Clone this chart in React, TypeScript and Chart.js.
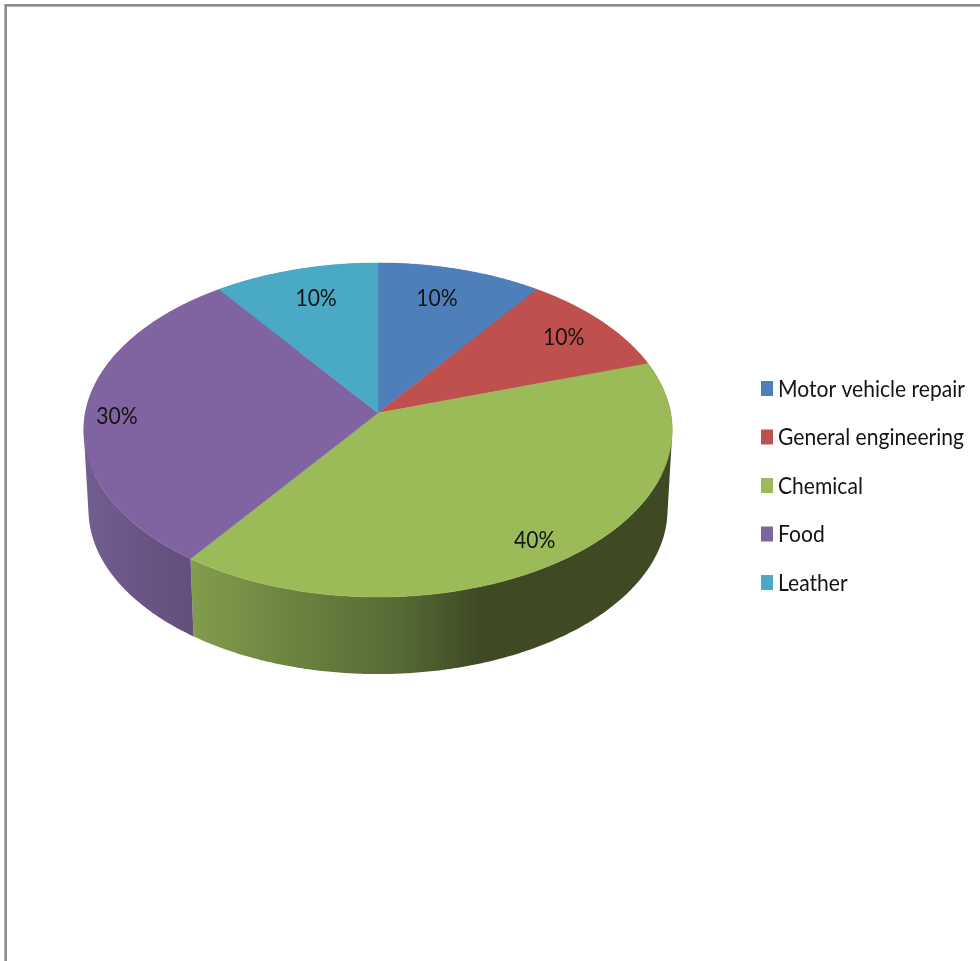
import React, { useEffect, useRef } from "react";
import { Chart, registerables } from "chart.js";

Chart.register(...registerables);

// Sector shares, in percent, clockwise from twelve o'clock.
const categories = ["Motor vehicle repair", "General engineering", "Chemical", "Food", "Leather"];
const shares = [10, 10, 40, 30, 10];
const topColors = ["#4f7fbb", "#c0504d", "#9bbb59", "#8064a2", "#4aa9c4"];

// Horizontal shading of the rim for each sector: [offset along x, colour].
const rimShades: [number, string][][] = [
  [[0, "#3a5e8c"], [1, "#3a5e8c"]],
  [[0, "#8e3b39"], [1, "#8e3b39"]],
  [[0, "#829d4c"], [0.36, "#6b8241"], [0.72, "#556a34"], [1, "#3f4a25"]],
  [[0, "#735e92"], [0.5, "#6a5585"], [1, "#634e7c"]],
  [[0, "#37809a"], [1, "#37809a"]],
];
const labelRadii = [0.786, 0.823, 0.868, 0.891, 0.783];
const labelTurnDegrees = [-2, 0, 1.1, -0.8, 1.1];

const WIDTH = 980;
const HEIGHT = 961;

// Tilted disc: horizontal and vertical reach relative to the radius, and perspective strength.
const REACH_X = 0.9956;
const REACH_Y = 0.5622;
const PERSPECTIVE = 0.1018;
// Underside of the disc: drop below the top face and shrink from receding.
const DEPTH = 80;
const BOTTOM_SCALE = 0.984;
const STEP = Math.PI / 360;

const FONT_FAMILY = 'Lato, "Open Sans", sans-serif';
const TEXT_SQUEEZE = 0.878;
const TEXT_COLOR = "#141414";

type Pt = { x: number; y: number };

const projector = (arc: any) => {
  const reachX = arc.outerRadius * REACH_X;
  const reachY = arc.outerRadius * REACH_Y;
  return (angle: number, r: number, bottom = false): Pt => {
    // angle 0 is three o'clock on the library's arcs; turn so 0 means "far side"
    const t = angle + Math.PI / 2;
    const u = r * Math.sin(t);
    const v = r * Math.cos(t);
    const w = 1 + PERSPECTIVE * v;
    const s = bottom ? BOTTOM_SCALE : 1;
    return {
      x: arc.x + (s * reachX * u) / w,
      y: arc.y + (bottom ? DEPTH : 0) - (s * reachY * v) / w,
    };
  };
};

const rimAngles = (start: number, end: number) => {
  const list: number[] = [];
  const n = Math.max(2, Math.ceil((end - start) / STEP));
  for (let i = 0; i <= n; i++) list.push(start + ((end - start) * i) / n);
  return list;
};

const squeezedText = (ctx: CanvasRenderingContext2D, text: string, x: number, y: number, align: CanvasTextAlign) => {
  ctx.save();
  ctx.translate(x, y);
  ctx.scale(TEXT_SQUEEZE, 1);
  ctx.textAlign = align;
  ctx.fillText(text, 0, 0);
  ctx.restore();
};

const disc3d = {
  id: "disc3d",
  beforeDraw(chart: any) {
    const { ctx } = chart;
    // page frame along the top and left
    ctx.save();
    ctx.fillStyle = "#8c8c8c";
    ctx.fillRect(5, 4, WIDTH - 5, 2);
    ctx.fillRect(5, 4, 2, HEIGHT - 4);
    ctx.fillStyle = "#b4b4b4";
    ctx.fillRect(7, 6, WIDTH - 7, 1);
    ctx.fillRect(4, 4, 1, HEIGHT - 4);
    ctx.restore();
  },
  beforeDatasetDraw(chart: any, args: any) {
    const { ctx } = chart;
    const arcs = args.meta.data;
    ctx.save();
    ctx.lineJoin = "round";

    // rim first, so the top face covers its far half
    arcs.forEach((arc: any, i: number) => {
      const project = projector(arc);
      const angles = rimAngles(arc.startAngle, arc.endAngle);
      const left = arc.x - arc.outerRadius;
      const gradient = ctx.createLinearGradient(i === 3 ? left : 191, 0, i === 3 ? 192 : 480, 0);
      rimShades[i].forEach(([offset, colour]) => gradient.addColorStop(offset, colour));
      ctx.fillStyle = gradient;
      ctx.beginPath();
      for (let k = 0; k < angles.length - 1; k++) {
        const quad = [
          project(angles[k], 1),
          project(angles[k + 1], 1),
          project(angles[k + 1], 1, true),
          project(angles[k], 1, true),
        ];
        let area = 0;
        quad.forEach((p, q) => {
          const n = quad[(q + 1) % 4];
          area += p.x * n.y - n.x * p.y;
        });
        const ordered = area < 0 ? quad.slice().reverse() : quad;
        ctx.moveTo(ordered[0].x, ordered[0].y);
        ordered.slice(1).forEach((p) => ctx.lineTo(p.x, p.y));
        ctx.closePath();
      }
      ctx.fill();
    });

    // top face
    arcs.forEach((arc: any) => {
      const project = projector(arc);
      const colour = arc.options.backgroundColor;
      ctx.fillStyle = colour;
      ctx.strokeStyle = colour;
      ctx.lineWidth = 0.5;
      ctx.beginPath();
      ctx.moveTo(arc.x, arc.y);
      rimAngles(arc.startAngle, arc.endAngle).forEach((a) => {
        const p = project(a, 1);
        ctx.lineTo(p.x, p.y);
      });
      ctx.closePath();
      ctx.fill();
      ctx.stroke();
    });

    ctx.restore();
    return false;
  },
  afterDatasetsDraw(chart: any) {
    const { ctx } = chart;
    const meta = chart.getDatasetMeta(0);
    const values = chart.data.datasets[0].data as number[];
    ctx.save();
    ctx.fillStyle = TEXT_COLOR;
    ctx.font = `24px ${FONT_FAMILY}`;
    ctx.textBaseline = "alphabetic";
    meta.data.forEach((arc: any, i: number) => {
      const project = projector(arc);
      const turn = (labelTurnDegrees[i] * Math.PI) / 180;
      const p = project((arc.startAngle + arc.endAngle) / 2 + turn, labelRadii[i]);
      squeezedText(ctx, `${values[i]}%`, p.x, p.y + 8.5, "center");
    });

    // legend column to the right of the disc
    (chart.data.labels as string[]).forEach((label, i) => {
      const cy = 388.5 + i * 48.5;
      ctx.fillStyle = topColors[i];
      ctx.fillRect(761, cy - 7.5, 12, 15);
      ctx.fillStyle = TEXT_COLOR;
      squeezedText(ctx, label, 778, cy + 8, "left");
    });
    ctx.restore();
  },
};

export default function App() {
  const ref = useRef<HTMLCanvasElement>(null);

  useEffect(() => {
    const chart = new Chart(ref.current!, {
      type: "pie",
      data: {
        labels: categories,
        datasets: [{ data: shares, backgroundColor: topColors, borderWidth: 0 }],
      },
      options: {
        responsive: false,
        animation: false,
        events: [],
        layout: { padding: { left: 84, right: 308, top: 119, bottom: 254 } },
        plugins: { legend: { display: false }, tooltip: { enabled: false } },
      },
      plugins: [disc3d],
    });
    return () => chart.destroy();
  }, []);

  return (
    <div style={{ position: "absolute", left: 0, top: 0, width: WIDTH, height: HEIGHT, background: "#fff" }}>
      <canvas ref={ref} width={WIDTH} height={HEIGHT} style={{ display: "block" }} />
    </div>
  );
}
